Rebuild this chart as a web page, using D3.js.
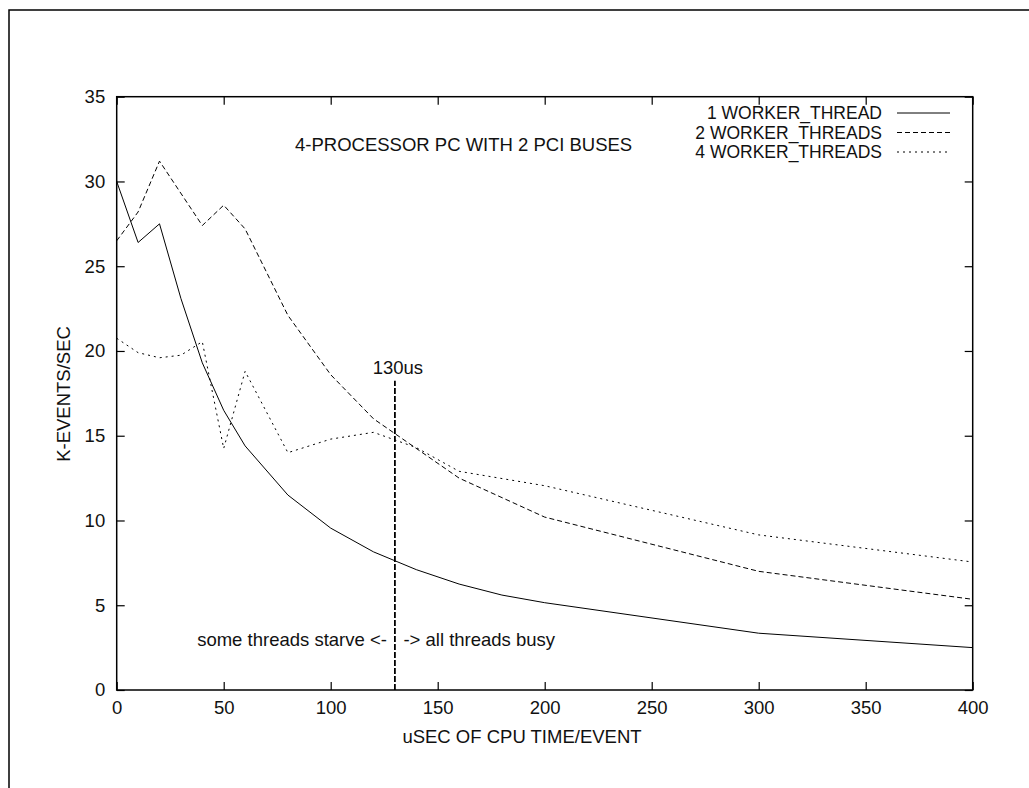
<!DOCTYPE html>
<html>
<head>
<meta charset="utf-8">
<script src="https://cdn.jsdelivr.net/npm/d3@7"></script>
<style>
  body { margin: 0; background: #fff; }
  svg text { font-family: "Liberation Sans", Arial, sans-serif; font-size: 18.5px; fill: #111; }
  .tick line { stroke: #000; stroke-width: 1.2; }
</style>
</head>
<body>
<div id="chart"></div>
<script>
// values (x = usec of cpu time per event, y = k-events/sec)
const oneX = [0, 10, 20, 30, 40, 50, 60, 80, 100, 120, 140, 160, 180, 200, 300, 400];
const oneY = [30.0, 26.4, 27.5, 23.1, 19.3, 16.5, 14.4, 11.5, 9.55, 8.15, 7.1, 6.25, 5.6, 5.15, 3.35, 2.5];

const twoX = [0, 10, 20, 40, 50, 60, 80, 100, 120, 160, 200, 300, 400];
const twoY = [26.5, 28.2, 31.2, 27.4, 28.6, 27.2, 22.1, 18.6, 16.0, 12.5, 10.2, 7.0, 5.35];

const fourX = [0, 10, 20, 30, 40, 50, 60, 80, 100, 120, 140, 160, 200, 300, 400];
const fourY = [20.75, 19.9, 19.6, 19.75, 20.55, 14.25, 18.8, 14.0, 14.8, 15.2, 14.3, 12.9, 12.05, 9.15, 7.55];

const seriesNames = ["1 WORKER_THREAD", "2 WORKER_THREADS", "4 WORKER_THREADS"];
const xTicks = [0, 50, 100, 150, 200, 250, 300, 350, 400];
const yTicks = [0, 5, 10, 15, 20, 25, 30, 35];
const markerX = 130;

const W = 1029, H = 788;
const margin = {top: 96.7, left: 116.7};
const width = 856, height = 593.3;

const svg = d3.select("#chart").append("svg")
  .attr("width", W).attr("height", H);

// outer page frame (cut off at right and bottom)
svg.append("path")
  .attr("d", "M9," + H + "V10H" + W)
  .attr("fill", "none").attr("stroke", "#000").attr("stroke-width", 1.5);

const g = svg.append("g")
  .attr("transform", "translate(" + margin.left + "," + margin.top + ")");

const x = d3.scaleLinear().domain([0, 400]).range([0, width]);
const y = d3.scaleLinear().domain([0, 35]).range([height, 0]);

// axes with inward ticks, mirrored on top/right
g.append("g").attr("transform", "translate(0," + height + ")")
  .call(d3.axisBottom(x).tickValues(xTicks).tickSize(-8).tickPadding(11))
  .call(s => s.select(".domain").remove());
g.append("g")
  .call(d3.axisTop(x).tickValues(xTicks).tickSize(-8).tickFormat(""))
  .call(s => s.select(".domain").remove());
g.append("g")
  .call(d3.axisLeft(y).tickValues(yTicks).tickSize(-8).tickPadding(11.5))
  .call(s => s.select(".domain").remove());
g.append("g").attr("transform", "translate(" + width + ",0)")
  .call(d3.axisRight(y).tickValues(yTicks).tickSize(-8).tickFormat(""))
  .call(s => s.select(".domain").remove());

g.selectAll(".tick text").style("font-size", "18.5px").style("fill", "#111");

g.append("rect")
  .attr("width", width).attr("height", height)
  .attr("fill", "none").attr("stroke", "#000").attr("stroke-width", 1.5);

// series
const dashes = [null, "5,3", "2,4"];
const series = [
  {name: seriesNames[0], xs: oneX, ys: oneY},
  {name: seriesNames[1], xs: twoX, ys: twoY},
  {name: seriesNames[2], xs: fourX, ys: fourY}
];

const line = d3.line()
  .x(d => x(d[0]))
  .y(d => y(d[1]));

series.forEach(function(s, i) {
  g.append("path")
    .datum(d3.zip(s.xs, s.ys))
    .attr("d", line)
    .attr("fill", "none")
    .attr("stroke", "#000")
    .attr("stroke-width", 1)
    .attr("stroke-dasharray", dashes[i]);
});

// 130us marker
g.append("line")
  .attr("x1", x(markerX)).attr("x2", x(markerX))
  .attr("y1", y(0)).attr("y2", y(18.25))
  .attr("stroke", "#000").attr("stroke-width", 1.8)
  .attr("stroke-dasharray", "6,2");

g.append("text")
  .attr("x", x(markerX) + 3).attr("y", y(18.25) - 7)
  .attr("text-anchor", "middle")
  .text(markerX + "us");

g.append("text")
  .attr("x", x(markerX) - 8).attr("y", y(2.6))
  .attr("text-anchor", "end")
  .text("some threads starve <-");

g.append("text")
  .attr("x", x(markerX) + 8.5).attr("y", y(2.6))
  .attr("text-anchor", "start")
  .text("-> all threads busy");

// title inside plot
svg.append("text")
  .attr("x", 295).attr("y", 151)
  .text("4-PROCESSOR PC WITH 2 PCI BUSES");

// legend
const legend = svg.selectAll(".legend")
  .data(series)
  .enter().append("g")
  .attr("class", "legend")
  .attr("transform", (d, i) => "translate(0," + (119 + i * 19.5) + ")");

legend.append("text")
  .attr("x", 882).attr("y", 0)
  .attr("text-anchor", "end")
  .style("font-size", "17.5px")
  .text(d => d.name);

legend.append("line")
  .attr("x1", 897).attr("x2", 950)
  .attr("y1", -6).attr("y2", -6)
  .attr("stroke", "#000").attr("stroke-width", 1)
  .attr("stroke-dasharray", (d, i) => dashes[i]);

// axis titles
svg.append("text")
  .attr("x", 522).attr("y", 743)
  .attr("text-anchor", "middle")
  .text("uSEC OF CPU TIME/EVENT");

svg.append("text")
  .attr("transform", "translate(70,394) rotate(-90)")
  .attr("text-anchor", "middle")
  .text("K-EVENTS/SEC");
</script>
</body>
</html>
